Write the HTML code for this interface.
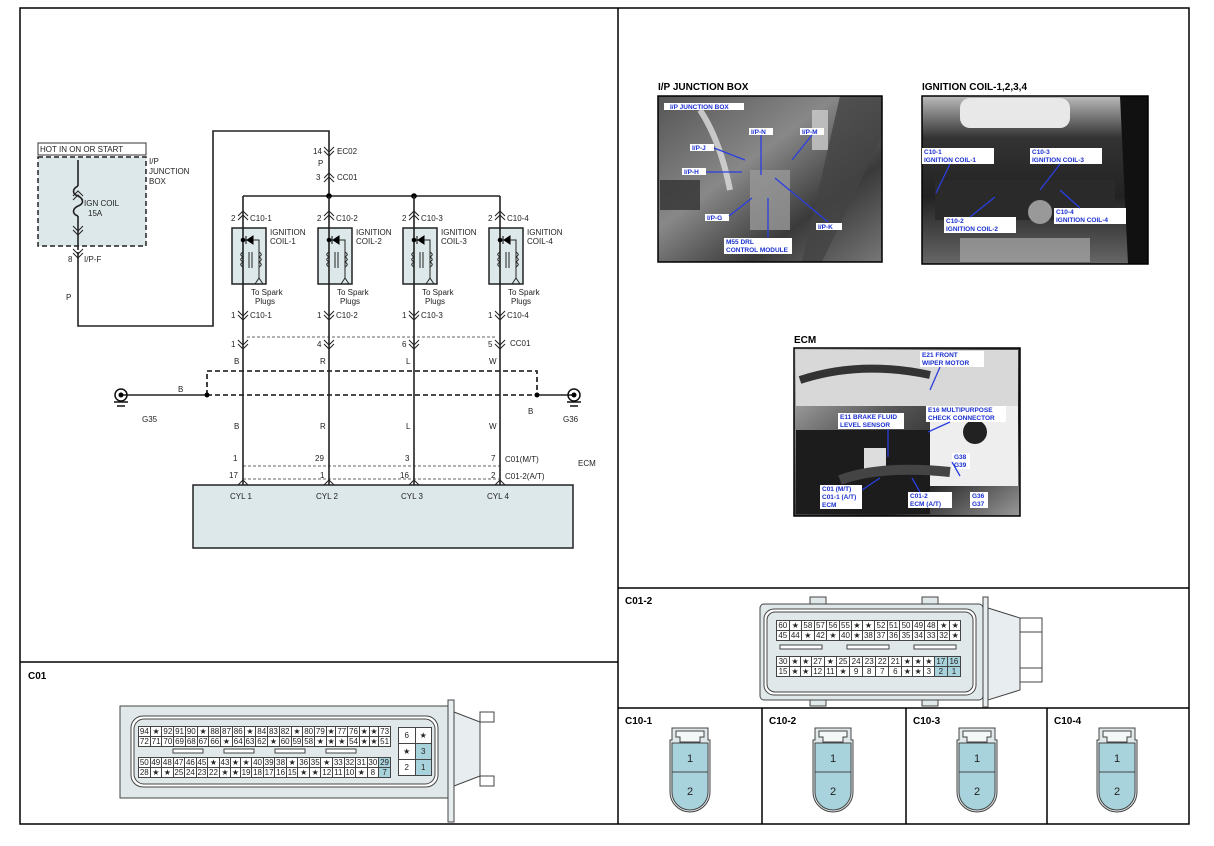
<!DOCTYPE html>
<html><head><meta charset="utf-8">
<style>
html,body{margin:0;padding:0;background:#fff;}
body{width:1214px;height:846px;position:relative;overflow:hidden;font-family:"Liberation Sans",sans-serif;}
svg{position:absolute;left:0;top:0;}
table.g{position:absolute;border-collapse:collapse;font-family:"Liberation Sans",sans-serif;font-size:8px;color:#222;}
table.g td{border:1px solid #444;text-align:center;padding:0;background:#fff;line-height:9px;height:9px;}
table.g td.h{background:#a9d3dc;}
</style></head><body>
<svg width="1214" height="846" viewBox="0 0 1214 846" xmlns="http://www.w3.org/2000/svg" font-family="Liberation Sans, sans-serif">
<defs>
<linearGradient id="ph1" x1="0" y1="0" x2="1" y2="1"><stop offset="0" stop-color="#555"/><stop offset="0.4" stop-color="#888"/><stop offset="0.7" stop-color="#3a3a3a"/><stop offset="1" stop-color="#777"/></linearGradient>
<linearGradient id="ph2" x1="0" y1="0" x2="0" y2="1"><stop offset="0" stop-color="#bbb"/><stop offset="0.25" stop-color="#333"/><stop offset="0.6" stop-color="#222"/><stop offset="1" stop-color="#666"/></linearGradient>
<linearGradient id="ph3" x1="0" y1="0" x2="1" y2="1"><stop offset="0" stop-color="#ccc"/><stop offset="0.4" stop-color="#555"/><stop offset="0.7" stop-color="#222"/><stop offset="1" stop-color="#999"/></linearGradient>
</defs>
<!-- frame -->
<g stroke="#000" stroke-width="1.5" fill="none">
<rect x="20" y="8" width="1169" height="816"/>
<line x1="618" y1="8" x2="618" y2="824"/>
<line x1="20" y1="662" x2="618" y2="662"/>
<line x1="618" y1="588" x2="1189" y2="588"/>
<line x1="618" y1="708" x2="1189" y2="708"/>
<line x1="762" y1="708" x2="762" y2="824"/>
<line x1="906" y1="708" x2="906" y2="824"/>
<line x1="1047" y1="708" x2="1047" y2="824"/>
</g>
<g font-weight="bold" font-size="10" fill="#000">
<text x="28" y="679">C01</text>
<text x="625" y="604">C01-2</text>
<text x="625" y="724">C10-1</text>
<text x="769" y="724">C10-2</text>
<text x="913" y="724">C10-3</text>
<text x="1054" y="724">C10-4</text>
</g>

<!-- ===== schematic ===== -->
<g font-size="8" fill="#222">
<rect x="38" y="143" width="108" height="12" fill="#fff" stroke="#333"/>
<text x="40" y="152">HOT IN ON OR START</text>
<rect x="38" y="157" width="108" height="89" fill="#dde8ea" stroke="#222" stroke-width="1.5" stroke-dasharray="5,3"/>
<text x="149" y="164">I/P</text><text x="149" y="174">JUNCTION</text><text x="149" y="184">BOX</text>
<text x="84" y="206">IGN COIL</text><text x="88" y="216">15A</text>
<text x="68" y="262">8</text><text x="84" y="262">I/P-F</text>
<text x="66" y="300">P</text>
<text x="313" y="154">14</text><text x="337" y="154">EC02</text>
<text x="318" y="166">P</text>
<text x="316" y="180">3</text><text x="337" y="180">CC01</text>
<text x="578" y="466">ECM</text>
<text x="505" y="462">C01(M/T)</text>
<text x="505" y="479">C01-2(A/T)</text>
<text x="178" y="392">B</text><text x="142" y="422">G35</text>
<text x="528" y="414">B</text><text x="563" y="422">G36</text>
<text x="510" y="346">CC01</text>
</g>
<g stroke="#222" stroke-width="1.6" fill="none">
<polyline points="329,196 329,131 213,131 213,326 78,326 78,252"/>
<line x1="78" y1="160" x2="78" y2="186"/>
<path d="M78,186 c-6,3 -6,8 0,10 c6,3 6,8 0,10 c-6,3 -6,8 0,10"/>
<line x1="78" y1="216" x2="78" y2="250"/>
<line x1="243" y1="196" x2="500" y2="196"/>
<line x1="121" y1="395" x2="207" y2="395"/>
<line x1="537" y1="395" x2="574" y2="395"/>
</g>
<g stroke="#222" stroke-width="1" fill="none">
<path d="M73,196 l5,-5 l5,5 M73,200 l5,-5 l5,5"/>
<path d="M73,226 l5,5 l5,-5 M73,230 l5,5 l5,-5"/>
<path d="M73,249 l5,5 l5,-5 M73,253 l5,5 l5,-5"/>
<path d="M324,147 l5,5 l5,-5 M324,151 l5,5 l5,-5"/>
<path d="M324,178 l5,-5 l5,5 M324,182 l5,-5 l5,5"/>
</g>
<circle cx="329" cy="196" r="2.8" fill="#000"/>
<circle cx="414" cy="196" r="2.8" fill="#000"/>
<g stroke="#111" stroke-width="1.6" fill="none" stroke-dasharray="5,3">
<polyline points="207,395 207,371 537,371 537,395"/>
<line x1="207" y1="395" x2="537" y2="395"/>
</g>
<circle cx="207" cy="395" r="2.5" fill="#000"/><circle cx="537" cy="395" r="2.5" fill="#000"/>
<g stroke="#111" stroke-width="1.5" fill="none">
<circle cx="121" cy="395" r="6"/><circle cx="574" cy="395" r="6"/>
<line x1="114" y1="402" x2="128" y2="402"/><line x1="117" y1="406" x2="125" y2="406"/>
<line x1="567" y1="402" x2="581" y2="402"/><line x1="570" y1="406" x2="578" y2="406"/>
</g>
<circle cx="121" cy="395" r="2.5" fill="#000"/><circle cx="574" cy="395" r="2.5" fill="#000"/>
<g stroke="#333" stroke-width="0.8" fill="none" stroke-dasharray="3,2">
<line x1="247" y1="337" x2="496" y2="337"/>
<line x1="243" y1="466" x2="500" y2="466"/>
<line x1="243" y1="479" x2="500" y2="479"/>
</g>
<rect x="193" y="485" width="380" height="63" fill="#dde8ea" stroke="#222" stroke-width="1.5"/>

<g>
<g stroke="#222" stroke-width="1.6" fill="none">
<line x1="243" y1="196" x2="243" y2="485"/><line x1="329" y1="196" x2="329" y2="485"/>
<line x1="414" y1="196" x2="414" y2="485"/><line x1="500" y1="196" x2="500" y2="485"/>
</g>
<g fill="#dde8ea" stroke="#222" stroke-width="1.5">
<rect x="232" y="228" width="34" height="56"/><rect x="318" y="228" width="34" height="56"/>
<rect x="403" y="228" width="34" height="56"/><rect x="489" y="228" width="34" height="56"/>
</g>
<g stroke="#222" stroke-width="1.6"><line x1="243" y1="228" x2="243" y2="284"/><line x1="329" y1="228" x2="329" y2="284"/><line x1="414" y1="228" x2="414" y2="284"/><line x1="500" y1="228" x2="500" y2="284"/></g>
<g stroke="#222" stroke-width="1" fill="none">
<path d="M238,216 l5,-5 l5,5 M238,220 l5,-5 l5,5 M238,311 l5,5 l5,-5 M238,315 l5,5 l5,-5 M238,340 l5,5 l5,-5 M238,344 l5,5 l5,-5 M238,485 l5,-5 l5,5"/>
<path d="M324,216 l5,-5 l5,5 M324,220 l5,-5 l5,5 M324,311 l5,5 l5,-5 M324,315 l5,5 l5,-5 M324,340 l5,5 l5,-5 M324,344 l5,5 l5,-5 M324,485 l5,-5 l5,5"/>
<path d="M409,216 l5,-5 l5,5 M409,220 l5,-5 l5,5 M409,311 l5,5 l5,-5 M409,315 l5,5 l5,-5 M409,340 l5,5 l5,-5 M409,344 l5,5 l5,-5 M409,485 l5,-5 l5,5"/>
<path d="M495,216 l5,-5 l5,5 M495,220 l5,-5 l5,5 M495,311 l5,5 l5,-5 M495,315 l5,5 l5,-5 M495,340 l5,5 l5,-5 M495,344 l5,5 l5,-5 M495,485 l5,-5 l5,5"/>
<path d="M243,240 h16 v38 l-4,6 M259,278 l4,6 M243,252 c-3,2 -3,3 0,5 c-3,2 -3,3 0,5 c-3,2 -3,3 0,5 M259,252 c3,2 3,3 0,5 c3,2 3,3 0,5 c3,2 3,3 0,5 M249,252 v16 M252,252 v16"/>
<path d="M329,240 h16 v38 l-4,6 M345,278 l4,6 M329,252 c-3,2 -3,3 0,5 c-3,2 -3,3 0,5 c-3,2 -3,3 0,5 M345,252 c3,2 3,3 0,5 c3,2 3,3 0,5 c3,2 3,3 0,5 M335,252 v16 M338,252 v16"/>
<path d="M414,240 h16 v38 l-4,6 M430,278 l4,6 M414,252 c-3,2 -3,3 0,5 c-3,2 -3,3 0,5 c-3,2 -3,3 0,5 M430,252 c3,2 3,3 0,5 c3,2 3,3 0,5 c3,2 3,3 0,5 M420,252 v16 M423,252 v16"/>
<path d="M500,240 h16 v38 l-4,6 M516,278 l4,6 M500,252 c-3,2 -3,3 0,5 c-3,2 -3,3 0,5 c-3,2 -3,3 0,5 M516,252 c3,2 3,3 0,5 c3,2 3,3 0,5 c3,2 3,3 0,5 M506,252 v16 M509,252 v16"/>
</g>
<g fill="#000">
<circle cx="243" cy="240" r="2.3"/><path d="M247,240 l6,-4 v8z M246,236 v8" stroke="#000"/>
<circle cx="329" cy="240" r="2.3"/><path d="M333,240 l6,-4 v8z M332,236 v8" stroke="#000"/>
<circle cx="414" cy="240" r="2.3"/><path d="M418,240 l6,-4 v8z M417,236 v8" stroke="#000"/>
<circle cx="500" cy="240" r="2.3"/><path d="M504,240 l6,-4 v8z M503,236 v8" stroke="#000"/>
</g>
<g font-size="8" fill="#222">
<text x="231" y="221">2</text><text x="250" y="221">C10-1</text>
<text x="317" y="221">2</text><text x="336" y="221">C10-2</text>
<text x="402" y="221">2</text><text x="421" y="221">C10-3</text>
<text x="488" y="221">2</text><text x="507" y="221">C10-4</text>
<text x="270" y="235">IGNITION</text><text x="270" y="244">COIL-1</text>
<text x="356" y="235">IGNITION</text><text x="356" y="244">COIL-2</text>
<text x="441" y="235">IGNITION</text><text x="441" y="244">COIL-3</text>
<text x="527" y="235">IGNITION</text><text x="527" y="244">COIL-4</text>
<text x="251" y="295">To Spark</text><text x="255" y="304">Plugs</text>
<text x="337" y="295">To Spark</text><text x="340" y="304">Plugs</text>
<text x="422" y="295">To Spark</text><text x="425" y="304">Plugs</text>
<text x="508" y="295">To Spark</text><text x="511" y="304">Plugs</text>
<text x="231" y="318">1</text><text x="250" y="318">C10-1</text>
<text x="317" y="318">1</text><text x="336" y="318">C10-2</text>
<text x="402" y="318">1</text><text x="421" y="318">C10-3</text>
<text x="488" y="318">1</text><text x="507" y="318">C10-4</text>
<text x="231" y="347">1</text><text x="317" y="347">4</text><text x="402" y="347">6</text><text x="488" y="347">5</text>
<text x="234" y="364">B</text><text x="320" y="364">R</text><text x="406" y="364">L</text><text x="489" y="364">W</text>
<text x="234" y="429">B</text><text x="320" y="429">R</text><text x="406" y="429">L</text><text x="489" y="429">W</text>
<text x="233" y="461">1</text><text x="315" y="461">29</text><text x="405" y="461">3</text><text x="491" y="461">7</text>
<text x="229" y="478">17</text><text x="320" y="478">1</text><text x="400" y="478">16</text><text x="491" y="478">2</text>
<text x="230" y="499">CYL 1</text><text x="316" y="499">CYL 2</text><text x="401" y="499">CYL 3</text><text x="487" y="499">CYL 4</text>
</g>
</g>

<!-- ===== photos ===== -->
<g font-weight="bold" font-size="10" fill="#000">
<text x="658" y="90">I/P JUNCTION BOX</text>
<text x="922" y="90">IGNITION COIL-1,2,3,4</text>
<text x="794" y="343">ECM</text>
</g>
<rect x="658" y="96" width="224" height="166" fill="url(#ph1)"/>
<g fill="#bbb" opacity="0.8">
<path d="M700,110 q20,30 30,80" stroke="#ddd" stroke-width="6" fill="none"/>
<rect x="750" y="170" width="40" height="60" fill="#999"/>
<rect x="812" y="110" width="16" height="40" fill="#ccc"/>
<path d="M840,96 l42,0 l0,40 l-60,126 l-20,0z" fill="#444"/>
<rect x="660" y="180" width="40" height="30" fill="#333"/>
</g>
<rect x="658" y="96" width="224" height="166" fill="none" stroke="#000" stroke-width="1.5"/>
<rect x="922" y="96" width="226" height="168" fill="url(#ph2)"/>
<g>
<rect x="960" y="98" width="110" height="30" rx="10" fill="#e8e8e8"/>
<rect x="935" y="180" width="180" height="40" fill="#2a2a2a"/>
<circle cx="1040" cy="212" r="12" fill="#999"/>
<rect x="960" y="238" width="130" height="24" fill="#aaa" opacity="0.7"/>
<path d="M1120,96 l28,0 l0,168 l-20,0z" fill="#111"/>
</g>
<rect x="922" y="96" width="226" height="168" fill="none" stroke="#000" stroke-width="1.5"/>
<rect x="794" y="348" width="226" height="168" fill="url(#ph3)"/>
<g>
<rect x="796" y="350" width="222" height="56" fill="#d8d8d8"/>
<path d="M800,380 q60,-20 130,-5" stroke="#333" stroke-width="8" fill="none"/>
<rect x="930" y="406" width="88" height="80" fill="#eee"/>
<circle cx="975" cy="432" r="12" fill="#222"/>
<rect x="796" y="430" width="134" height="84" fill="#1c1c1c"/>
<rect x="864" y="448" width="22" height="24" fill="#ddd"/>
<path d="M840,480 q40,-15 110,-8" stroke="#444" stroke-width="10" fill="none"/>
</g>
<rect x="794" y="348" width="226" height="168" fill="none" stroke="#000" stroke-width="1.5"/>
<g fill="#fff">
<rect x="664" y="103" width="80" height="7"/><rect x="690" y="144" width="24" height="7"/><rect x="682" y="168" width="24" height="7"/>
<rect x="749" y="128" width="24" height="7"/><rect x="800" y="128" width="24" height="7"/><rect x="705" y="214" width="24" height="7"/>
<rect x="816" y="223" width="26" height="7"/><rect x="724" y="238" width="68" height="16"/>
<rect x="922" y="148" width="72" height="16"/><rect x="1030" y="148" width="72" height="16"/>
<rect x="944" y="217" width="72" height="16"/><rect x="1054" y="208" width="72" height="16"/>
<rect x="920" y="351" width="64" height="16"/><rect x="926" y="406" width="80" height="16"/>
<rect x="838" y="413" width="66" height="16"/><rect x="820" y="485" width="42" height="24"/>
<rect x="908" y="492" width="44" height="16"/><rect x="952" y="453" width="18" height="16"/><rect x="970" y="492" width="18" height="16"/>
</g>
<g font-weight="bold" font-size="6.5" fill="#1a2fd0">
<text x="670" y="109">I/P JUNCTION BOX</text><text x="692" y="150">I/P-J</text><text x="684" y="174">I/P-H</text>
<text x="751" y="134">I/P-N</text><text x="802" y="134">I/P-M</text><text x="707" y="220">I/P-G</text><text x="818" y="229">I/P-K</text>
<text x="726" y="244">M55 DRL</text><text x="726" y="252">CONTROL MODULE</text>
<text x="924" y="154">C10-1</text><text x="924" y="162">IGNITION COIL-1</text>
<text x="1032" y="154">C10-3</text><text x="1032" y="162">IGNITION COIL-3</text>
<text x="946" y="223">C10-2</text><text x="946" y="231">IGNITION COIL-2</text>
<text x="1056" y="214">C10-4</text><text x="1056" y="222">IGNITION COIL-4</text>
<text x="922" y="357">E21 FRONT</text><text x="922" y="365">WIPER MOTOR</text>
<text x="928" y="412">E16 MULTIPURPOSE</text><text x="928" y="420">CHECK CONNECTOR</text>
<text x="840" y="419">E11 BRAKE FLUID</text><text x="840" y="427">LEVEL SENSOR</text>
<text x="822" y="491">C01 (M/T)</text><text x="822" y="499">C01-1 (A/T)</text><text x="822" y="507">ECM</text>
<text x="910" y="498">C01-2</text><text x="910" y="506">ECM (A/T)</text>
<text x="954" y="459">G38</text><text x="954" y="467">G39</text><text x="972" y="498">G36</text><text x="972" y="506">G37</text>
</g>
<g stroke="#2a3fe0" stroke-width="1.3">
<line x1="714" y1="148" x2="745" y2="160"/><line x1="706" y1="172" x2="742" y2="172"/><line x1="761" y1="135" x2="761" y2="175"/>
<line x1="812" y1="135" x2="792" y2="160"/><line x1="729" y1="216" x2="752" y2="198"/><line x1="828" y1="222" x2="775" y2="178"/>
<line x1="768" y1="238" x2="768" y2="198"/><line x1="950" y1="164" x2="936" y2="193"/><line x1="1060" y1="164" x2="1040" y2="190"/>
<line x1="970" y1="217" x2="995" y2="197"/><line x1="1080" y1="208" x2="1060" y2="190"/><line x1="940" y1="367" x2="930" y2="390"/>
<line x1="950" y1="422" x2="928" y2="432"/><line x1="888" y1="429" x2="888" y2="457"/><line x1="862" y1="490" x2="880" y2="478"/>
<line x1="920" y1="492" x2="912" y2="478"/><line x1="952" y1="462" x2="960" y2="476"/>
</g>

<!-- ===== C01 connector body ===== -->
<g stroke="#444" stroke-width="1" fill="#e1e8ea">
<rect x="120" y="706" width="328" height="92"/>
<rect x="131" y="716" width="307" height="71" rx="12" fill="#fff"/>
<rect x="134" y="719" width="301" height="65" rx="10" fill="#e1e8ea"/>
<polygon points="448,700 454,700 454,822 448,822" fill="#e8eef0"/>
<polygon points="454,712 480,722 480,776 454,786" fill="#e8eef0"/>
<rect x="480" y="712" width="14" height="10" fill="#fff"/><rect x="480" y="776" width="14" height="10" fill="#fff"/>
</g>
<g stroke="#444" fill="#fff">
<rect x="173" y="749" width="30" height="4"/><rect x="224" y="749" width="30" height="4"/>
<rect x="275" y="749" width="30" height="4"/><rect x="326" y="749" width="30" height="4"/>
</g>
<!-- C01-2 body -->
<g stroke="#444" stroke-width="1" fill="#e1e8ea">
<rect x="810" y="597" width="16" height="8"/><rect x="922" y="597" width="16" height="8"/>
<rect x="810" y="698" width="16" height="8"/><rect x="922" y="698" width="16" height="8"/>
<rect x="760" y="604" width="223" height="96" rx="4"/>
<rect x="764" y="609" width="212" height="86" rx="10" fill="#fff"/>
<rect x="767" y="612" width="206" height="80" rx="8" fill="#e1e8ea"/>
<rect x="983" y="597" width="5" height="110" fill="#e8eef0"/>
<polygon points="988,608 1020,618 1020,690 988,700" fill="#e8eef0"/>
<rect x="1020" y="618" width="22" height="14" fill="#fff"/><rect x="1020" y="668" width="22" height="14" fill="#fff"/>
<line x1="1042" y1="632" x2="1042" y2="668"/>
</g>
<g stroke="#444" fill="#fff">
<rect x="780" y="645" width="42" height="4"/><rect x="847" y="645" width="42" height="4"/><rect x="914" y="645" width="42" height="4"/>
</g>

<!-- C10 connectors -->
<g stroke="#444" stroke-width="1">
<g transform="translate(690,0)">
<path d="M-18,728 h36 v12 h2 v52 a20,20 0 0 1 -40,0 v-52 h2z" fill="#e1e8ea"/>
<path d="M-14,731 h28 v6 h-4 v5 h-20 v-5 h-4z" fill="#f4f7f8"/>
<path d="M-18,743 h36 v49 a18,18 0 0 1 -36,0z" fill="#a9d3dc"/>
<line x1="-18" y1="772" x2="18" y2="772"/>
</g>
<g transform="translate(833,0)">
<path d="M-18,728 h36 v12 h2 v52 a20,20 0 0 1 -40,0 v-52 h2z" fill="#e1e8ea"/>
<path d="M-14,731 h28 v6 h-4 v5 h-20 v-5 h-4z" fill="#f4f7f8"/>
<path d="M-18,743 h36 v49 a18,18 0 0 1 -36,0z" fill="#a9d3dc"/>
<line x1="-18" y1="772" x2="18" y2="772"/>
</g>
<g transform="translate(977,0)">
<path d="M-18,728 h36 v12 h2 v52 a20,20 0 0 1 -40,0 v-52 h2z" fill="#e1e8ea"/>
<path d="M-14,731 h28 v6 h-4 v5 h-20 v-5 h-4z" fill="#f4f7f8"/>
<path d="M-18,743 h36 v49 a18,18 0 0 1 -36,0z" fill="#a9d3dc"/>
<line x1="-18" y1="772" x2="18" y2="772"/>
</g>
<g transform="translate(1117,0)">
<path d="M-18,728 h36 v12 h2 v52 a20,20 0 0 1 -40,0 v-52 h2z" fill="#e1e8ea"/>
<path d="M-14,731 h28 v6 h-4 v5 h-20 v-5 h-4z" fill="#f4f7f8"/>
<path d="M-18,743 h36 v49 a18,18 0 0 1 -36,0z" fill="#a9d3dc"/>
<line x1="-18" y1="772" x2="18" y2="772"/>
</g>
</g>
<g font-size="11" fill="#222" text-anchor="middle">
<text x="690" y="762">1</text><text x="690" y="795">2</text>
<text x="833" y="762">1</text><text x="833" y="795">2</text>
<text x="977" y="762">1</text><text x="977" y="795">2</text>
<text x="1117" y="762">1</text><text x="1117" y="795">2</text>
</g>
</svg>

<!-- C01 grid -->
<table class="g" style="left:138px;top:726px;width:253px;">
<tr><td>94</td><td>★</td><td>92</td><td>91</td><td>90</td><td>★</td><td>88</td><td>87</td><td>86</td><td>★</td><td>84</td><td>83</td><td>82</td><td>★</td><td>80</td><td>79</td><td>★</td><td>77</td><td>76</td><td>★</td><td>★</td><td>73</td></tr>
<tr><td>72</td><td>71</td><td>70</td><td>69</td><td>68</td><td>67</td><td>66</td><td>★</td><td>64</td><td>63</td><td>62</td><td>★</td><td>60</td><td>59</td><td>58</td><td>★</td><td>★</td><td>★</td><td>54</td><td>★</td><td>★</td><td>51</td></tr>
</table>
<table class="g" style="left:138px;top:757px;width:253px;">
<tr><td>50</td><td>49</td><td>48</td><td>47</td><td>46</td><td>45</td><td>★</td><td>43</td><td>★</td><td>★</td><td>40</td><td>39</td><td>38</td><td>★</td><td>36</td><td>35</td><td>★</td><td>33</td><td>32</td><td>31</td><td>30</td><td class="h">29</td></tr>
<tr><td>28</td><td>★</td><td>★</td><td>25</td><td>24</td><td>23</td><td>22</td><td>★</td><td>★</td><td>19</td><td>18</td><td>17</td><td>16</td><td>15</td><td>★</td><td>★</td><td>12</td><td>11</td><td>10</td><td>★</td><td>8</td><td class="h">7</td></tr>
</table>
<table class="g" style="left:398px;top:727px;width:34px;">
<tr><td style="height:15px">6</td><td style="height:15px">★</td></tr>
<tr><td style="height:15px">★</td><td class="h" style="height:15px">3</td></tr>
<tr><td style="height:15px">2</td><td class="h" style="height:15px">1</td></tr>
</table>
<!-- C01-2 grid -->
<table class="g" style="left:776px;top:620px;width:185px;">
<tr><td>60</td><td>★</td><td>58</td><td>57</td><td>56</td><td>55</td><td>★</td><td>★</td><td>52</td><td>51</td><td>50</td><td>49</td><td>48</td><td>★</td><td>★</td></tr>
<tr><td>45</td><td>44</td><td>★</td><td>42</td><td>★</td><td>40</td><td>★</td><td>38</td><td>37</td><td>36</td><td>35</td><td>34</td><td>33</td><td>32</td><td>★</td></tr>
</table>
<table class="g" style="left:776px;top:656px;width:185px;">
<tr><td>30</td><td>★</td><td>★</td><td>27</td><td>★</td><td>25</td><td>24</td><td>23</td><td>22</td><td>21</td><td>★</td><td>★</td><td>★</td><td class="h">17</td><td class="h">16</td></tr>
<tr><td>15</td><td>★</td><td>★</td><td>12</td><td>11</td><td>★</td><td>9</td><td>8</td><td>7</td><td>6</td><td>★</td><td>★</td><td>3</td><td class="h">2</td><td class="h">1</td></tr>
</table>
</body></html>
